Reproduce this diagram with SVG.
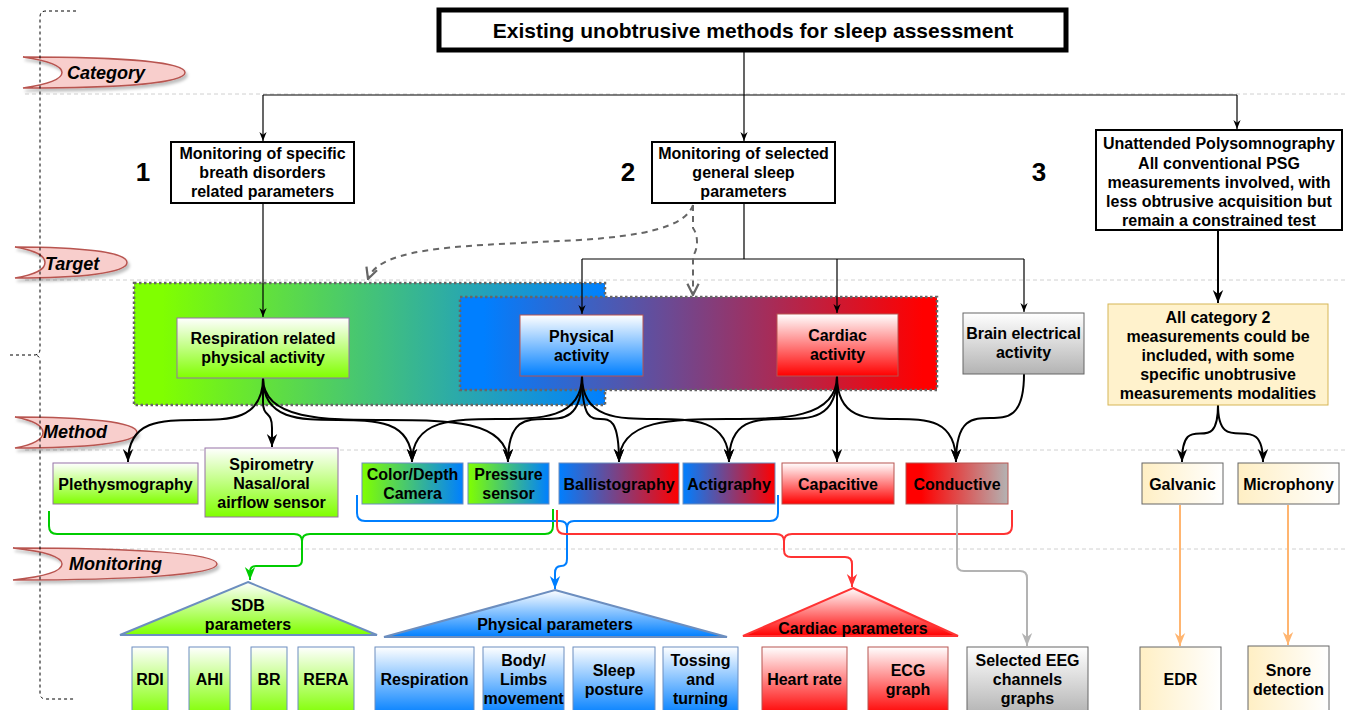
<svg xmlns="http://www.w3.org/2000/svg" width="1347" height="710" viewBox="0 0 1347 710">
<defs>
<style>
.t{font-family:"Liberation Sans",Arial,Helvetica,sans-serif;font-weight:bold;font-size:16px;text-anchor:middle;dominant-baseline:central;fill:#000}
.title{font-size:21px}
.num{font-size:26px}
.flagt{font-family:"Liberation Sans",Arial,Helvetica,sans-serif;font-weight:bold;font-style:italic;font-size:18px;dominant-baseline:central;fill:#000}
.flag{fill:#f8cecc;stroke:#b85450;stroke-width:1.5}
.sep{stroke:#d0d0d0;stroke-width:1;stroke-dasharray:4 3;fill:none}
.box{fill:#fff;stroke:#000;stroke-width:2}
.thin{fill:none;stroke:#000;stroke-width:1.2}
.thick{fill:none;stroke:#000;stroke-width:2}
.dash{fill:none;stroke:#666;stroke-width:2;stroke-dasharray:6 5}
.big{stroke:#666;stroke-width:2.5;stroke-dasharray:2.5 2.5}
</style>
<linearGradient id="vGreen" x1="0" y1="0" x2="0" y2="1"><stop offset="0" stop-color="#fff"/><stop offset="1" stop-color="#80ff00"/></linearGradient>
<linearGradient id="vBlue" x1="0" y1="0" x2="0" y2="1"><stop offset="0" stop-color="#fff"/><stop offset="1" stop-color="#007fff"/></linearGradient>
<linearGradient id="vRed" x1="0" y1="0" x2="0" y2="1"><stop offset="0" stop-color="#fff"/><stop offset="1" stop-color="#ff0000"/></linearGradient>
<linearGradient id="vGray" x1="0" y1="0" x2="0" y2="1"><stop offset="0" stop-color="#fff"/><stop offset="1" stop-color="#b3b3b3"/></linearGradient>
<linearGradient id="hGB" x1="0" y1="0" x2="1" y2="0"><stop offset="0" stop-color="#80ff00"/><stop offset="1" stop-color="#007fff"/></linearGradient>
<linearGradient id="hBR" x1="0" y1="0" x2="1" y2="0"><stop offset="0" stop-color="#007fff"/><stop offset="1" stop-color="#ff0000"/></linearGradient>
<linearGradient id="hRG" x1="0" y1="0" x2="1" y2="0"><stop offset="0.15" stop-color="#ff0000"/><stop offset="1" stop-color="#b3b3b3"/></linearGradient>
<linearGradient id="hY" x1="0" y1="0" x2="1" y2="0"><stop offset="0" stop-color="#ffefc4"/><stop offset="1" stop-color="#fff"/></linearGradient>
<linearGradient id="bigGB" x1="0" y1="0" x2="1" y2="0"><stop offset="0.06" stop-color="#80ff00"/><stop offset="1" stop-color="#007fff"/></linearGradient>
<linearGradient id="bigBR" x1="0" y1="0" x2="1" y2="0"><stop offset="0.05" stop-color="#007fff"/><stop offset="0.97" stop-color="#ff0000"/></linearGradient>
<filter id="sh" x="-10%" y="-20%" width="130%" height="160%"><feDropShadow dx="2" dy="3" stdDeviation="1.5" flood-opacity="0.25"/></filter>
<marker id="aThin" markerUnits="userSpaceOnUse" markerWidth="9" markerHeight="9" viewBox="0 0 10 10" refX="10" refY="5" orient="auto"><path d="M0,1 L10,5 L0,9 L3,5 z" fill="#000"/></marker>
<marker id="aThick" markerUnits="userSpaceOnUse" markerWidth="13" markerHeight="13" viewBox="0 0 10 10" refX="10" refY="5" orient="auto"><path d="M0,1 L10,5 L0,9 L3,5 z" fill="#000"/></marker>
<marker id="aGreen" markerUnits="userSpaceOnUse" markerWidth="13" markerHeight="13" viewBox="0 0 10 10" refX="10" refY="5" orient="auto"><path d="M0,1 L10,5 L0,9 L3,5 z" fill="#00cc00"/></marker>
<marker id="aBlue" markerUnits="userSpaceOnUse" markerWidth="13" markerHeight="13" viewBox="0 0 10 10" refX="10" refY="5" orient="auto"><path d="M0,1 L10,5 L0,9 L3,5 z" fill="#007fff"/></marker>
<marker id="aRed" markerUnits="userSpaceOnUse" markerWidth="13" markerHeight="13" viewBox="0 0 10 10" refX="10" refY="5" orient="auto"><path d="M0,1 L10,5 L0,9 L3,5 z" fill="#ff3333"/></marker>
<marker id="aGray" markerUnits="userSpaceOnUse" markerWidth="13" markerHeight="13" viewBox="0 0 10 10" refX="10" refY="5" orient="auto"><path d="M0,1 L10,5 L0,9 L3,5 z" fill="#b3b3b3"/></marker>
<marker id="aOrange" markerUnits="userSpaceOnUse" markerWidth="13" markerHeight="13" viewBox="0 0 10 10" refX="10" refY="5" orient="auto"><path d="M0,1 L10,5 L0,9 L3,5 z" fill="#ffb570"/></marker>
<marker id="aOpen" markerUnits="userSpaceOnUse" markerWidth="14" markerHeight="14" viewBox="0 0 10 10" refX="9" refY="5" orient="auto"><path d="M1,1 L9,5 L1,9" fill="none" stroke="#666" stroke-width="1.6"/></marker>
</defs>
<rect width="1347" height="710" fill="#fff"/>

<g id="separators">
<path class="sep" d="M25,94 H1347 M25,280 H1347 M25,450 H1347 M25,549 H1347"/>
</g>

<g id="flags">
<path class="flag" filter="url(#sh)" d="M23,57 C120,57 185,62 185,72.5 C185,83 120,88 23,88 C50,84 62,79 62,72.5 C62,66 50,61 23,57 Z"/>
<text class="flagt" x="67" y="73">Category</text>
<path class="flag" filter="url(#sh)" d="M15,247 C80,247 127,252 127,262.5 C127,273 80,278 15,278 C38,274 45,269 45,262.5 C45,256 38,251 15,247 Z"/>
<text class="flagt" x="45" y="264">Target</text>
<path class="flag" filter="url(#sh)" d="M15,417 C85,417 137,422 137,432.5 C137,443 85,448 15,448 C36,444 43,439 43,432.5 C43,426 36,421 15,417 Z"/>
<text class="flagt" x="43" y="432">Method</text>
<path class="flag" filter="url(#sh)" d="M13,548 C130,548 217,553 217,564 C217,575 130,580 13,580 C50,576 62,570 62,564 C62,558 50,552 13,548 Z"/>
<text class="flagt" x="69" y="564">Monitoring</text>
</g>

<g id="leftBracket">
<path d="M76,11 H46 Q40,11 40,17 V349 Q40,355 34,355 Q40,355 40,361 V693 Q40,699 46,699 H76 M10,355 H34" fill="none" stroke="#000" stroke-width="1" stroke-dasharray="3 3"/>
</g>

<g id="groupRects">
<rect id="respGroup" class="big" x="134" y="283" width="471" height="122" fill="url(#bigGB)"/>
<rect id="physCardGroup" class="big" x="460" y="297" width="477" height="93" fill="url(#bigBR)"/>
</g>

<g id="connectors">
<path class="thin" d="M744,50 V95 M263,95 H1237"/>
<path class="thin" d="M263,95 V141" marker-end="url(#aThin)"/>
<path class="thin" d="M744,95 V141" marker-end="url(#aThin)"/>
<path class="thin" d="M1237,95 V129" marker-end="url(#aThin)"/>
<path class="thin" d="M263,203 V317" marker-end="url(#aThin)"/>
<path class="thin" d="M744,203 V259 M582,259 H1024"/>
<path class="thin" d="M582,259 V314" marker-end="url(#aThin)"/>
<path class="thin" d="M837,259 V313" marker-end="url(#aThin)"/>
<path class="thin" d="M1024,259 V312" marker-end="url(#aThin)"/>
<path class="dash" d="M693,205 C685,228 640,236 580,240 C470,246 380,245 368,279" marker-end="url(#aOpen)"/>
<path class="dash" d="M693,205 V228 Q697,234 697,242 Q697,250 693,256 V295" marker-end="url(#aOpen)"/>
<path class="thick" d="M1218,230 V303" marker-end="url(#aThick)"/>
<path class="thick" d="M263,378 C263,462 128,378 128,462" marker-end="url(#aThick)"/>
<path class="thick" d="M263,378 V402 C263,418 272,410 272,428 V447" marker-end="url(#aThick)"/>
<path class="thick" d="M263,378 C263,462 412,378 412,462" marker-end="url(#aThick)"/>
<path class="thick" d="M263,378 C263,462 508,378 508,462" marker-end="url(#aThick)"/>
<path class="thick" d="M582,376 C582,462 412,376 412,462" marker-end="url(#aThick)"/>
<path class="thick" d="M582,376 C582,462 508,376 508,462" marker-end="url(#aThick)"/>
<path class="thick" d="M582,376 C582,462 619,376 619,462" marker-end="url(#aThick)"/>
<path class="thick" d="M582,376 C582,462 729,376 729,462" marker-end="url(#aThick)"/>
<path class="thick" d="M837,376 C837,462 619,376 619,462" marker-end="url(#aThick)"/>
<path class="thick" d="M837,376 C837,462 729,376 729,462" marker-end="url(#aThick)"/>
<path class="thick" d="M837,376 V462" marker-end="url(#aThick)"/>
<path class="thick" d="M837,376 C837,462 956,376 956,462" marker-end="url(#aThick)"/>
<path class="thick" d="M1024,374 C1024,462 956,374 956,462" marker-end="url(#aThick)"/>
<path class="thick" d="M1218,405 C1218,462 1182,405 1182,462" marker-end="url(#aThick)"/>
<path class="thick" d="M1218,405 C1218,462 1263,405 1263,462" marker-end="url(#aThick)"/>
<path d="M49,511 V526 Q49,534 57,534 H294 Q302,534 302,541 Q302,534 310,534 H545 Q553,534 553,526 V509" fill="none" stroke="#00cc00" stroke-width="2"/>
<path d="M302,541 V560 Q302,566 296,566 H256 Q250,566 250,572 V580" fill="none" stroke="#00cc00" stroke-width="2" marker-end="url(#aGreen)"/>
<path d="M357,495 V513 Q357,521 365,521 H560 Q567,521 567,528 Q567,521 574,521 H770 Q778,521 778,513 V495" fill="none" stroke="#007fff" stroke-width="2"/>
<path d="M567,528 V559 Q567,566 561,566 H561 Q555,566 555,573 V589" fill="none" stroke="#007fff" stroke-width="2" marker-end="url(#aBlue)"/>
<path d="M557,510 V526 Q557,534 565,534 H776 Q784,534 784,541 Q784,534 792,534 H1004 Q1012,534 1012,526 V510" fill="none" stroke="#ff3333" stroke-width="2"/>
<path d="M784,541 V550 Q784,557 791,557 H845 Q852,557 852,564 V587" fill="none" stroke="#ff3333" stroke-width="2" marker-end="url(#aRed)"/>
<path d="M957,505 V564 Q957,571 964,571 H1020 Q1027,571 1027,578 V646" fill="none" stroke="#b3b3b3" stroke-width="2" marker-end="url(#aGray)"/>
<path d="M1180,505 V646" fill="none" stroke="#ffb570" stroke-width="2" marker-end="url(#aOrange)"/>
<path d="M1288,505 V645" fill="none" stroke="#ffb570" stroke-width="2" marker-end="url(#aOrange)"/>
</g>

<g id="title"><rect x="439" y="10" width="627" height="40" fill="#fff" stroke="#000" stroke-width="5"/><text class="t title" x="753" y="30">Existing unobtrusive methods for sleep assessment</text></g>

<g id="cat1"><rect class="box" x="171" y="142" width="183" height="61"/><text class="t" x="262.5" y="153">Monitoring of specific</text><text class="t" x="262.5" y="172">breath disorders</text><text class="t" x="262.5" y="191">related parameters</text></g>
<g id="cat2"><rect class="box" x="652" y="142" width="183" height="61"/><text class="t" x="743.5" y="153">Monitoring of selected</text><text class="t" x="743.5" y="172">general sleep</text><text class="t" x="743.5" y="191">parameters</text></g>
<g id="cat3"><rect class="box" x="1096" y="130" width="246" height="100"/><text class="t" x="1219" y="143">Unattended Polysomnography</text><text class="t" x="1219" y="163">All conventional PSG</text><text class="t" x="1219" y="182">measurements involved, with</text><text class="t" x="1219" y="201">less obtrusive acquisition but</text><text class="t" x="1219" y="220">remain a constrained test</text></g>
<g id="numbers"><text class="t num" x="143" y="172">1</text><text class="t num" x="628" y="172">2</text><text class="t num" x="1039" y="172">3</text></g>

<g id="respAct"><rect x="177" y="318" width="172" height="60" fill="url(#vGreen)" stroke="#9673a6" stroke-width="1"/><text class="t" x="263" y="338">Respiration related</text><text class="t" x="263" y="357">physical activity</text></g>
<g id="physAct"><rect x="520" y="315" width="123" height="61" fill="url(#vBlue)" stroke="#b85450" stroke-width="1"/><text class="t" x="581.5" y="336">Physical</text><text class="t" x="581.5" y="355">activity</text></g>
<g id="cardAct"><rect x="777" y="314" width="121" height="62" fill="url(#vRed)" stroke="#b85450" stroke-width="1"/><text class="t" x="837.5" y="335">Cardiac</text><text class="t" x="837.5" y="354">activity</text></g>
<g id="brainAct"><rect x="963" y="313" width="121" height="61" fill="url(#vGray)" stroke="#666" stroke-width="1"/><text class="t" x="1023.5" y="333">Brain electrical</text><text class="t" x="1023.5" y="352">activity</text></g>
<g id="allCat2"><rect x="1108" y="304" width="220" height="101" fill="#fff2cc" stroke="#d6b656" stroke-width="1"/><text class="t" x="1218" y="317">All category 2</text><text class="t" x="1218" y="336">measurements could be</text><text class="t" x="1218" y="355">included, with some</text><text class="t" x="1218" y="374">specific unobtrusive</text><text class="t" x="1218" y="393">measurements modalities</text></g>

<g id="pleth"><rect x="53" y="463" width="145" height="41" fill="url(#vGreen)" stroke="#9673a6" stroke-width="1"/><text class="t" x="125.5" y="484">Plethysmography</text></g>
<g id="spiro"><rect x="205" y="448" width="133" height="69" fill="url(#vGreen)" stroke="#9673a6" stroke-width="1"/><text class="t" x="271.5" y="464">Spirometry</text><text class="t" x="271.5" y="483">Nasal/oral</text><text class="t" x="271.5" y="502">airflow sensor</text></g>
<g id="camera"><rect x="362" y="463" width="101" height="41" fill="url(#hGB)" stroke="#6c8ebf" stroke-width="1"/><text class="t" x="412.5" y="474">Color/Depth</text><text class="t" x="412.5" y="493">Camera</text></g>
<g id="pressure"><rect x="468" y="463" width="81" height="41" fill="url(#hGB)" stroke="#6c8ebf" stroke-width="1"/><text class="t" x="508.5" y="474">Pressure</text><text class="t" x="508.5" y="493">sensor</text></g>
<g id="ballisto"><rect x="559" y="463" width="120" height="41" fill="url(#hBR)" stroke="#6c8ebf" stroke-width="1"/><text class="t" x="619" y="484">Ballistography</text></g>
<g id="actig"><rect x="683" y="463" width="92" height="41" fill="url(#hBR)" stroke="#6c8ebf" stroke-width="1"/><text class="t" x="729" y="484">Actigraphy</text></g>
<g id="capac"><rect x="782" y="463" width="112" height="41" fill="url(#vRed)" stroke="#b85450" stroke-width="1"/><text class="t" x="838" y="484">Capacitive</text></g>
<g id="conduct"><rect x="906" y="463" width="102" height="41" fill="url(#hRG)" stroke="#b85450" stroke-width="1"/><text class="t" x="957" y="484">Conductive</text></g>
<g id="galvanic"><rect x="1142" y="463" width="81" height="41" fill="url(#hY)" stroke="#666" stroke-width="1"/><text class="t" x="1182.5" y="484">Galvanic</text></g>
<g id="microphony"><rect x="1238" y="463" width="101" height="41" fill="url(#hY)" stroke="#666" stroke-width="1"/><text class="t" x="1288.5" y="484">Microphony</text></g>

<g id="sdbParams"><path d="M248,582 L377,635 H120 Z" fill="url(#vGreen)" stroke="#6c8ebf" stroke-width="2"/><text class="t" x="248" y="605">SDB</text><text class="t" x="248" y="624">parameters</text></g>
<g id="physParams"><path d="M555,590 L727,637 H384 Z" fill="url(#vBlue)" stroke="#6c8ebf" stroke-width="2"/><text class="t" x="555" y="624">Physical parameters</text></g>
<g id="cardParams"><path d="M853,588 L958,636 H743 Z" fill="url(#vRed)" stroke="#ff3333" stroke-width="2"/><text class="t" x="853" y="628">Cardiac parameters</text></g>

<g id="rdi"><rect x="132" y="647" width="36" height="68" fill="url(#vGreen)" stroke="#6c8ebf" stroke-width="1"/><text class="t" x="150" y="679">RDI</text></g>
<g id="ahi"><rect x="189" y="647" width="41" height="68" fill="url(#vGreen)" stroke="#6c8ebf" stroke-width="1"/><text class="t" x="209.5" y="679">AHI</text></g>
<g id="br"><rect x="251" y="647" width="36" height="68" fill="url(#vGreen)" stroke="#6c8ebf" stroke-width="1"/><text class="t" x="269" y="679">BR</text></g>
<g id="rera"><rect x="298" y="647" width="56" height="68" fill="url(#vGreen)" stroke="#6c8ebf" stroke-width="1"/><text class="t" x="326" y="679">RERA</text></g>
<g id="respiration"><rect x="375" y="647" width="99" height="68" fill="url(#vBlue)" stroke="#6c8ebf" stroke-width="1"/><text class="t" x="424.5" y="679">Respiration</text></g>
<g id="bodyLimbs"><rect x="483" y="647" width="81" height="68" fill="url(#vBlue)" stroke="#6c8ebf" stroke-width="1"/><text class="t" x="523.5" y="660">Body/</text><text class="t" x="523.5" y="679">Limbs</text><text class="t" x="523.5" y="698">movement</text></g>
<g id="posture"><rect x="573" y="647" width="82" height="68" fill="url(#vBlue)" stroke="#6c8ebf" stroke-width="1"/><text class="t" x="614" y="670">Sleep</text><text class="t" x="614" y="689">posture</text></g>
<g id="tossing"><rect x="663" y="647" width="75" height="68" fill="url(#vBlue)" stroke="#6c8ebf" stroke-width="1"/><text class="t" x="700.5" y="660">Tossing</text><text class="t" x="700.5" y="679">and</text><text class="t" x="700.5" y="698">turning</text></g>
<g id="heartRate"><rect x="762" y="647" width="85" height="68" fill="url(#vRed)" stroke="#b85450" stroke-width="1"/><text class="t" x="804.5" y="679">Heart rate</text></g>
<g id="ecg"><rect x="868" y="647" width="80" height="68" fill="url(#vRed)" stroke="#b85450" stroke-width="1"/><text class="t" x="908" y="670">ECG</text><text class="t" x="908" y="689">graph</text></g>
<g id="eeg"><rect x="967" y="647" width="121" height="68" fill="url(#vGray)" stroke="#666" stroke-width="1"/><text class="t" x="1027.5" y="660">Selected EEG</text><text class="t" x="1027.5" y="679">channels</text><text class="t" x="1027.5" y="698">graphs</text></g>
<g id="edr"><rect x="1140" y="647" width="81" height="68" fill="url(#hY)" stroke="#666" stroke-width="1"/><text class="t" x="1180.5" y="679">EDR</text></g>
<g id="snore"><rect x="1248" y="646" width="81" height="69" fill="url(#hY)" stroke="#666" stroke-width="1"/><text class="t" x="1288.5" y="670">Snore</text><text class="t" x="1288.5" y="689">detection</text></g>
</svg>
